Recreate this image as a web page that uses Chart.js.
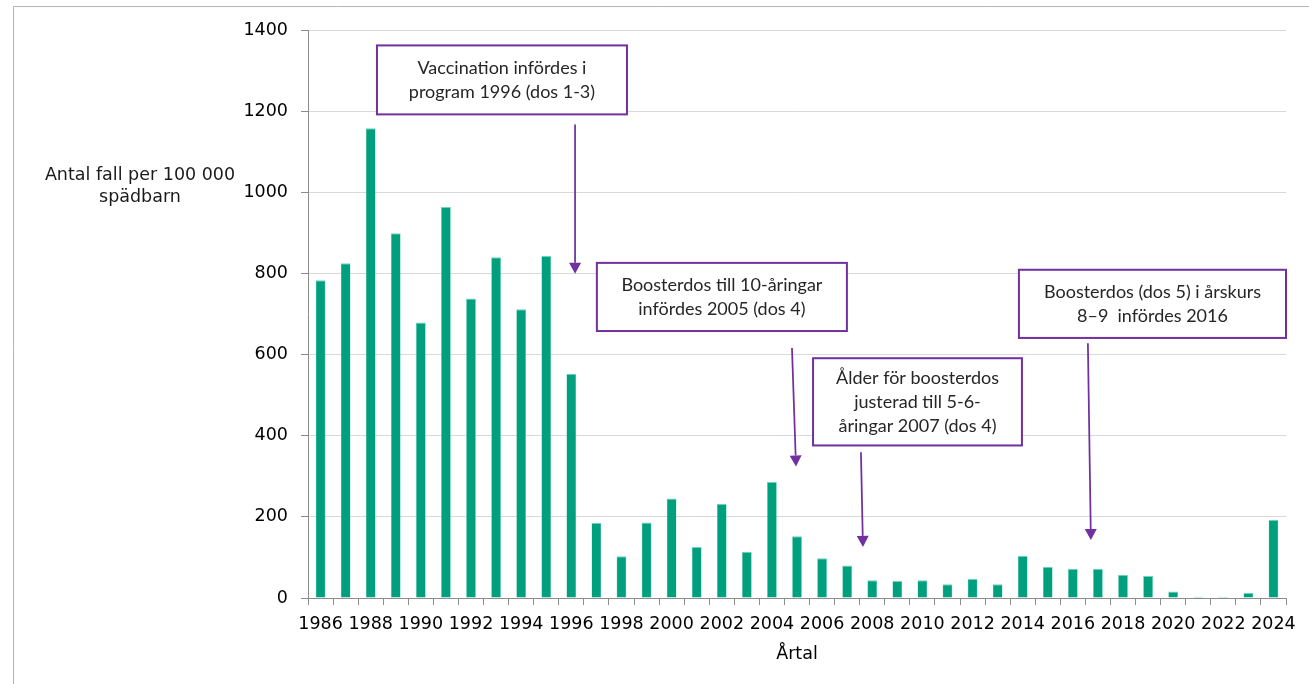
<!DOCTYPE html>
<html>
<head>
<meta charset="utf-8">
<script src="https://cdn.jsdelivr.net/npm/chart.js@4.4.1/dist/chart.umd.min.js"></script>
<style>
  html, body { margin: 0; padding: 0; background: #fff; }
  #wrap { width: 1309px; height: 684px; }
</style>
</head>
<body>
<div id="wrap"><canvas id="myChart" width="1309" height="684"></canvas></div>
<script>
// årtal och antal fall per 100 000 spädbarn
var years = ['1986','1987','1988','1989','1990','1991','1992','1993','1994','1995',
             '1996','1997','1998','1999','2000','2001','2002','2003','2004','2005',
             '2006','2007','2008','2009','2010','2011','2012','2013','2014','2015',
             '2016','2017','2018','2019','2020','2021','2022','2023','2024'];
var cases = [783, 825, 1158, 899, 679, 964, 738, 840, 712, 843,
             553, 185, 103, 186, 245, 126, 232, 114, 286, 152,
             98, 80, 44, 42, 44, 34, 47, 34, 104, 77,
             72, 72, 57, 54, 16, 3, 3, 13, 193];
var yTicks = [0, 200, 400, 600, 800, 1000, 1200, 1400];
var yTitle = ['Antal fall per 100 000', 'spädbarn'];
var xTitle = 'Årtal';

// annotation boxes: text, box corners (category index, value), arrow from/to
var notes = [
    { text: ['Vaccination infördes i', 'program 1996 (dos 1-3)'],
      box: [2.25, 1362, 12.22, 1192], arrow: [10.15, 1167, 10.15, 799] },
    { text: ['Boosterdos till 10-åringar', 'infördes 2005 (dos 4)'],
      box: [11.02, 826, 20.99, 658], arrow: [18.80, 616, 18.96, 324] },
    { text: ['Ålder för boosterdos', 'justerad till 5-6-', 'åringar 2007 (dos 4)'],
      box: [19.64, 591, 27.97, 376], arrow: [21.55, 359, 21.63, 126] },
    { text: ['Boosterdos (dos 5) i årskurs', '8–9  infördes 2016'],
      box: [27.85, 809, 38.5, 641], arrow: [30.60, 628, 30.72, 143] }
];

var purple = '#7030a0';
var axisGrey = '#8c8c8c';
var axisFont = { family: 'DejaVu Sans', size: 17.5 };

var framePlugin = {
    id: 'frame',
    beforeDraw: function(chart){
        var ctx = chart.ctx;
        ctx.save();
        ctx.strokeStyle = '#b4b4b4';
        ctx.lineWidth = 1;
        ctx.beginPath();
        ctx.moveTo(13.5, 700);
        ctx.lineTo(13.5, 6.5);
        ctx.lineTo(1320, 6.5);
        ctx.stroke();
        ctx.restore();
    }
};

var textPlugin = {
    id: 'texts',
    afterDraw: function(chart){
        var ctx = chart.ctx;
        var xs = chart.scales.x, ys = chart.scales.y;
        ctx.save();
        // y axis title, horizontal
        ctx.fillStyle = '#1a1a1a';
        ctx.font = '17.5px "DejaVu Sans"';
        ctx.textAlign = 'center';
        ctx.textBaseline = 'middle';
        yTitle.forEach(function(line, i){
            ctx.fillText(line, 140, 175 + i * 22);
        });

        notes.forEach(function(n){
            var x1 = xs.getPixelForValue(n.box[0]), y1 = ys.getPixelForValue(n.box[1]);
            var x2 = xs.getPixelForValue(n.box[2]), y2 = ys.getPixelForValue(n.box[3]);
            ctx.fillStyle = '#fff';
            ctx.fillRect(x1, y1, x2 - x1, y2 - y1);
            ctx.strokeStyle = purple;
            ctx.lineWidth = 2;
            ctx.strokeRect(x1, y1, x2 - x1, y2 - y1);
            ctx.fillStyle = '#262626';
            ctx.font = '18px Lato';
            var cy = (y1 + y2) / 2 - (n.text.length - 1) * 12;
            n.text.forEach(function(line, i){
                ctx.fillText(line, (x1 + x2) / 2, cy + i * 24);
            });

            var ax1 = xs.getPixelForValue(n.arrow[0]), ay1 = ys.getPixelForValue(n.arrow[1]);
            var ax2 = xs.getPixelForValue(n.arrow[2]), ay2 = ys.getPixelForValue(n.arrow[3]);
            var ang = Math.atan2(ay2 - ay1, ax2 - ax1);
            var hl = 11, hw = 6;
            ctx.strokeStyle = purple;
            ctx.lineWidth = 1.75;
            ctx.beginPath();
            ctx.moveTo(ax1, ay1);
            ctx.lineTo(ax2 - Math.cos(ang) * hl, ay2 - Math.sin(ang) * hl);
            ctx.stroke();
            ctx.fillStyle = purple;
            ctx.beginPath();
            ctx.moveTo(ax2, ay2);
            ctx.lineTo(ax2 - Math.cos(ang) * hl - Math.sin(ang) * hw, ay2 - Math.sin(ang) * hl + Math.cos(ang) * hw);
            ctx.lineTo(ax2 - Math.cos(ang) * hl + Math.sin(ang) * hw, ay2 - Math.sin(ang) * hl - Math.cos(ang) * hw);
            ctx.closePath();
            ctx.fill();
        });
        ctx.restore();
    }
};

function Drawgraph(){
    var ctx = document.getElementById('myChart').getContext('2d');
    new Chart(ctx, {
        type: 'bar',
        data: {
            labels: years,
            datasets: [{
                label: 'Antal fall per 100 000 spädbarn',
                data: cases,
                backgroundColor: '#00a07f',
                borderColor: '#6fd3bd',
                borderWidth: { top: 1, left: 0.5, right: 0.5, bottom: 0 },
                categoryPercentage: 1.0,
                barPercentage: 0.39
            }]
        },
        plugins: [framePlugin, textPlugin],
        options: {
            responsive: false,
            animation: false,
            layout: { padding: { left: 0, right: 23, top: 30, bottom: 19 } },
            plugins: {
                legend: { display: false },
                tooltip: { enabled: false },
                title: { display: false }
            },
            scales: {
                x: {
                    grid: { display: true, drawOnChartArea: false, offset: true,
                            tickLength: 7, color: axisGrey, tickColor: axisGrey },
                    border: { color: axisGrey, width: 1 },
                    ticks: {
                        autoSkip: false, maxRotation: 0, minRotation: 0, padding: 9,
                        color: '#000',
                        font: axisFont,
                        callback: function(v, i){ return i % 2 === 0 ? years[i] : ''; }
                    },
                    title: {
                        display: true, text: xTitle, color: '#000',
                        font: axisFont,
                        padding: { top: 0, bottom: 0 }
                    }
                },
                y: {
                    min: 0, max: 1400,
                    afterFit: function(scale){ scale.width = 308; },
                    afterBuildTicks: function(scale){
                        scale.ticks = yTicks.map(function(v){ return { value: v }; });
                    },
                    grid: { color: '#d9d9d9', tickColor: axisGrey, tickLength: 7 },
                    border: { color: axisGrey, width: 1 },
                    ticks: {
                        padding: 13, color: '#000',
                        font: axisFont,
                        callback: function(v){ return String(v); }
                    }
                }
            }
        }
    });
}

Drawgraph();
</script>
</body>
</html>
